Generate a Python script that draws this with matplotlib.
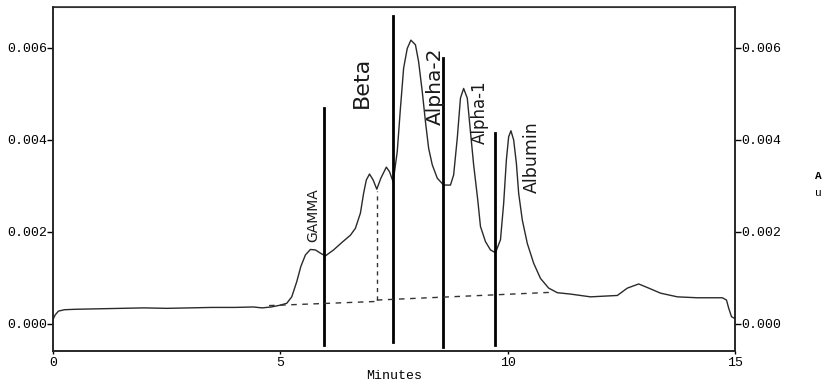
import numpy as np
import matplotlib
matplotlib.use("Agg")
from matplotlib import pyplot as plt

# electropherogram trace, absorbance vs time
minutes = [0.00, 0.05, 0.12, 0.25, 0.50, 1.00, 1.50, 2.00, 2.50, 3.00, 3.50, 4.00,
           4.40, 4.60, 4.80, 5.00, 5.14, 5.25, 5.36, 5.45, 5.55, 5.66, 5.77, 5.88,
           5.99, 6.17, 6.35, 6.54, 6.65, 6.76, 6.83, 6.89, 6.96, 7.04, 7.12,
           7.21, 7.33, 7.40, 7.48, 7.57, 7.64, 7.71, 7.79, 7.87, 7.97, 8.04,
           8.12, 8.19, 8.26, 8.34, 8.45, 8.59, 8.74, 8.81, 8.89, 8.96, 9.03,
           9.11, 9.18, 9.25, 9.34, 9.40, 9.51, 9.62, 9.73, 9.84, 9.91, 9.97,
           10.02, 10.07, 10.13, 10.19, 10.24, 10.32, 10.43, 10.57, 10.72, 10.90,
           11.09, 11.38, 11.82, 12.41, 12.63, 12.88, 13.10, 13.36, 13.73, 14.17,
           14.72, 14.81, 14.86, 14.92, 14.99]
absorb = [0.00010, 0.00020, 0.00028, 0.00031, 0.00032, 0.00033, 0.00034, 0.00035,
          0.00034, 0.00035, 0.00036, 0.00036, 0.00037, 0.00035, 0.00037, 0.00041,
          0.00045, 0.00059, 0.00092, 0.00125, 0.00150, 0.00162, 0.00161, 0.00154,
          0.00148, 0.00161, 0.00177, 0.00193, 0.00208, 0.00241, 0.00284, 0.00313,
          0.00326, 0.00313, 0.00293, 0.00317, 0.00341, 0.00331, 0.00309, 0.00375,
          0.00469, 0.00556, 0.00599, 0.00617, 0.00607, 0.00570, 0.00505, 0.00440,
          0.00382, 0.00346, 0.00317, 0.00302, 0.00302, 0.00324, 0.00404, 0.00491,
          0.00512, 0.00491, 0.00418, 0.00346, 0.00270, 0.00212, 0.00179, 0.00161,
          0.00155, 0.00183, 0.00262, 0.00357, 0.00407, 0.00420, 0.00400, 0.00349,
          0.00284, 0.00226, 0.00175, 0.00132, 0.00099, 0.00078, 0.00068, 0.00065,
          0.00059, 0.00062, 0.00078, 0.00087, 0.00078, 0.00067, 0.00059, 0.00057,
          0.00057, 0.00052, 0.00034, 0.00016, 0.00012]

# fraction boundaries (drop lines) and their extents
cut_times = [5.97, 7.47, 8.58, 9.71]
cut_tops = [0.00470, 0.00670, 0.00578, 0.00416]
cut_bottoms = [-0.00046, -0.00039, -0.00050, -0.00046]

# integration baseline pieces
base1_x = [4.75, 7.12]
base1_y = [0.00040, 0.00049]
base2_x = [7.12, 11.0]
base2_y = [0.00052, 0.00069]
drop_x = [7.12, 7.12]
drop_y = [0.00052, 0.00290]

# fraction names written on the trace
frac_names = ["GAMMA", "Beta", "Alpha-2", "Alpha-1", "Albumin"]
frac_x = [5.72, 6.80, 8.41, 9.38, 10.52]
frac_y = [0.00237, 0.00526, 0.00517, 0.00461, 0.00363]
frac_size = [10, 16, 14.5, 12, 12.5]

yticks = [0.000, 0.002, 0.004, 0.006]
xticks = [0, 5, 10, 15]

mono = "Liberation Mono"

fig = plt.figure(figsize=(8.27, 3.86), dpi=100)
ax = fig.add_axes([0.0641, 0.0907, 0.8248, 0.8912])

ax.plot(minutes, absorb, color="#2a2a2a", lw=1.0)

for t, top, bot in zip(cut_times, cut_tops, cut_bottoms):
    ax.plot([t, t], [bot, top], color="black", lw=2.0)

ax.plot(base1_x, base1_y, color="#333333", lw=1.0, ls=(0, (4, 4)))
ax.plot(base2_x, base2_y, color="#333333", lw=1.0, ls=(0, (4, 4)))
ax.plot(drop_x, drop_y, color="#333333", lw=1.0, ls=(0, (3, 3)))

for name, x, y, s in zip(frac_names, frac_x, frac_y, frac_size):
    ax.text(x, y, name, rotation=90, ha="center", va="center",
            fontsize=s, family="DejaVu Sans", color="#1a1a1a")

ax.set_xlim(0, 15)
ax.set_ylim(-0.000587, 0.006891)

ax.set_xticks(xticks)
ax.set_xticklabels([str(v) for v in xticks], family=mono, fontsize=9.5)
ax.set_yticks(yticks)
ax.set_yticklabels(["%.3f" % v for v in yticks], family=mono, fontsize=9.5)
ax.tick_params(axis="x", length=2, pad=2, width=1)
ax.tick_params(axis="y", length=4, pad=0.5, width=1)
ax.set_xlabel("Minutes", family=mono, fontsize=9.5, labelpad=1)

ax2 = ax.twinx()
ax2.set_ylim(ax.get_ylim())
ax2.set_yticks(yticks)
ax2.set_yticklabels(["%.3f" % v for v in yticks], family=mono, fontsize=9.5)
ax2.tick_params(axis="y", length=4, pad=0.5, width=1)

for a in (ax, ax2):
    for sp in a.spines.values():
        sp.set_linewidth(1.1)
        sp.set_color("#222222")
ax.spines["top"].set_color("#666666")
ax.spines["top"].set_linewidth(0.8)

fig.text(0.989, 0.544, "A", family=mono, fontsize=8, fontweight="bold",
         ha="center", va="center")
fig.text(0.989, 0.500, "u", family=mono, fontsize=8,
         ha="center", va="center")

fig.savefig("out.png", dpi=100)
